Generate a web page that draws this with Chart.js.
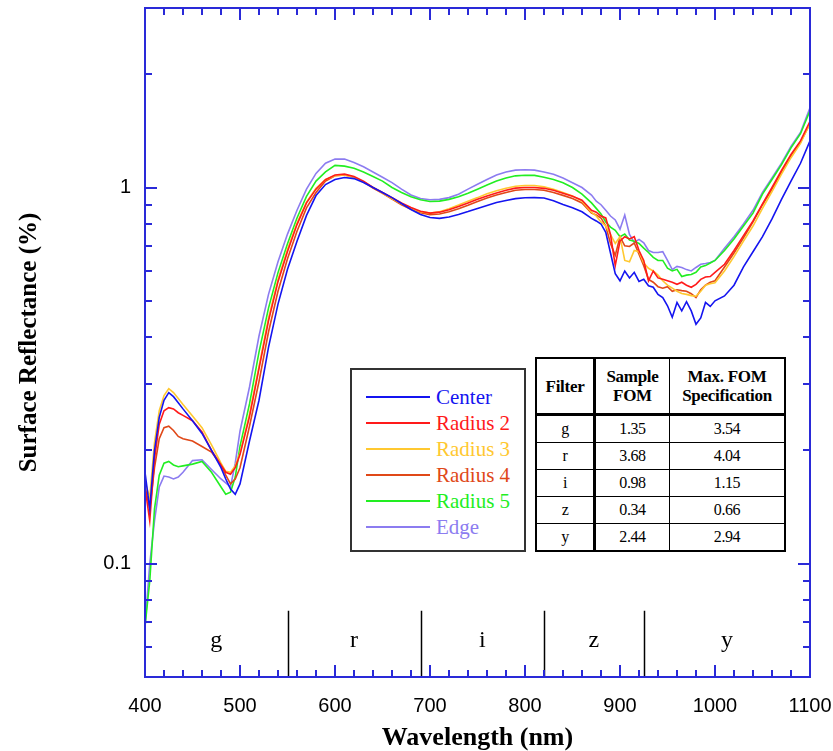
<!DOCTYPE html>
<html>
<head>
<meta charset="utf-8">
<script src="https://cdn.jsdelivr.net/npm/chart.js@4.4.1/dist/chart.umd.min.js"></script>
<style>
  body { margin: 0; background: #fff; }
  #wrap { position: relative; width: 833px; height: 751px; }
  #legend {
    position: absolute; left: 350px; top: 368px; width: 172px; height: 180px;
    border: 2px solid #333; background: #fff; font-family: "Liberation Serif", serif;
  }
  .row { position: absolute; left: 0; height: 24px; }
  .swatch { position: absolute; left: 14px; width: 64px; top: 11px; border-top: 2px solid; }
  .lbl { position: absolute; left: 84px; top: 0; font-size: 21px; line-height: 24px; white-space: nowrap; }
  #fom {
    position: absolute; left: 535px; top: 357px; width: 251px; height: 192px;
    border-collapse: collapse; border: 2px solid #000; background: #fff;
    font-family: "Liberation Serif", serif; text-align: center;
  }
  #fom td, #fom th { border: 1px solid #000; padding: 0; }
  #fom th { font-size: 17px; line-height: 19px; font-weight: bold; letter-spacing: -0.3px; height: 54px; border-bottom: 3px solid #000; }
  #fom td { font-size: 16px; height: 26px; letter-spacing: -0.4px; }
  #fom .first { border-right: 3px solid #000; }
</style>
</head>
<body>
<div id="wrap">
  <canvas id="chart" width="833" height="751"></canvas>
  <div id="legend"></div>
  <table id="fom"></table>
</div>
<script>
// wavelength grid (nm)
const wavelengths = [400,405,410,415,420,425,430,435,440,450,460,470,480,485,490,495,500,
  510,520,530,540,550,560,570,580,590,600,610,620,630,640,650,660,670,680,690,
  700,710,720,730,740,750,760,770,780,790,800,810,820,830,840,850,860,
  870,875,880,885,890,895,900,905,910,915,920,925,930,935,940,945,950,955,960,965,970,975,980,985,990,995,1000,
  1010,1020,1030,1040,1050,1060,1070,1080,1090,1100];

// surface reflectance (%) for each measurement position
const center = [0.175,0.14,0.2,0.245,0.272,0.285,0.278,0.268,0.258,0.24,0.222,0.2,0.18,0.168,0.158,0.153,0.163,
  0.212,0.272,0.376,0.49,0.606,0.72,0.843,0.952,1.018,1.05,1.063,1.056,1.031,1.0,0.97,0.94,0.907,0.874,0.848,
  0.832,0.828,0.835,0.848,0.863,0.88,0.896,0.912,0.924,0.934,0.939,0.94,0.938,0.922,0.901,0.883,0.862,
  0.828,0.815,0.8,0.76,0.67,0.59,0.565,0.6,0.575,0.595,0.563,0.57,0.548,0.543,0.52,0.51,0.485,0.452,0.495,0.47,0.497,0.47,0.433,0.45,0.495,0.483,0.5,
  0.515,0.55,0.615,0.675,0.74,0.825,0.93,1.04,1.16,1.33];
const radius2 = [0.16,0.13,0.19,0.235,0.255,0.26,0.258,0.252,0.248,0.24,0.224,0.2,0.183,0.175,0.173,0.18,0.195,
  0.246,0.33,0.442,0.562,0.676,0.797,0.91,0.99,1.05,1.08,1.085,1.07,1.04,1.0,0.97,0.94,0.91,0.885,0.865,
  0.855,0.86,0.873,0.89,0.91,0.93,0.95,0.967,0.983,0.996,1.0,1.0,0.995,0.983,0.965,0.948,0.925,
  0.87,0.86,0.84,0.83,0.75,0.62,0.72,0.74,0.73,0.74,0.68,0.64,0.565,0.6,0.575,0.57,0.565,0.56,0.553,0.56,0.55,0.543,0.553,0.57,0.578,0.58,0.595,
  0.625,0.68,0.745,0.815,0.905,1.0,1.11,1.225,1.33,1.5];
const radius3 = [0.165,0.15,0.21,0.255,0.28,0.292,0.285,0.275,0.265,0.247,0.23,0.207,0.185,0.176,0.175,0.182,0.197,
  0.25,0.335,0.45,0.57,0.685,0.805,0.915,0.995,1.05,1.075,1.08,1.065,1.035,1.0,0.967,0.935,0.905,0.88,0.862,
  0.855,0.862,0.878,0.898,0.92,0.94,0.962,0.98,0.995,1.008,1.012,1.012,1.005,0.99,0.97,0.95,0.92,
  0.86,0.84,0.81,0.79,0.75,0.71,0.74,0.64,0.635,0.68,0.675,0.63,0.61,0.6,0.585,0.565,0.55,0.54,0.53,0.523,0.52,0.516,0.514,0.53,0.55,0.555,0.558,
  0.6,0.655,0.72,0.79,0.88,0.975,1.085,1.2,1.31,1.48];
const radius4 = [0.16,0.14,0.18,0.215,0.23,0.232,0.226,0.218,0.215,0.212,0.205,0.198,0.183,0.172,0.163,0.168,0.18,
  0.232,0.305,0.413,0.53,0.647,0.765,0.883,0.97,1.04,1.075,1.08,1.065,1.035,0.997,0.965,0.932,0.9,0.875,0.857,
  0.847,0.85,0.862,0.878,0.897,0.918,0.938,0.955,0.97,0.983,0.988,0.988,0.983,0.97,0.953,0.935,0.91,
  0.855,0.845,0.83,0.79,0.71,0.66,0.74,0.7,0.697,0.712,0.665,0.62,0.57,0.56,0.545,0.54,0.545,0.53,0.535,0.532,0.53,0.522,0.51,0.535,0.55,0.56,0.565,
  0.615,0.67,0.735,0.81,0.9,0.99,1.1,1.215,1.32,1.48];
const radius5 = [0.068,0.09,0.14,0.172,0.185,0.187,0.183,0.181,0.182,0.184,0.187,0.175,0.16,0.153,0.155,0.17,0.205,
  0.266,0.365,0.478,0.594,0.709,0.83,0.947,1.04,1.1,1.145,1.14,1.125,1.1,1.07,1.04,1.0,0.97,0.945,0.928,
  0.918,0.92,0.93,0.945,0.965,0.99,1.015,1.04,1.06,1.074,1.078,1.077,1.065,1.05,1.03,1.0,0.96,
  0.91,0.88,0.85,0.81,0.785,0.77,0.74,0.752,0.725,0.72,0.71,0.69,0.672,0.652,0.64,0.64,0.61,0.6,0.606,0.58,0.585,0.587,0.595,0.615,0.62,0.63,0.64,
  0.68,0.73,0.79,0.855,0.96,1.05,1.15,1.275,1.39,1.6];
const edge = [0.068,0.1,0.13,0.16,0.171,0.17,0.168,0.17,0.175,0.188,0.189,0.178,0.168,0.164,0.16,0.185,0.225,
  0.295,0.403,0.52,0.635,0.752,0.87,0.99,1.09,1.16,1.19,1.19,1.165,1.135,1.1,1.065,1.03,0.99,0.955,0.935,
  0.928,0.93,0.94,0.96,0.99,1.02,1.05,1.08,1.1,1.112,1.115,1.112,1.1,1.085,1.06,1.03,1.0,
  0.955,0.92,0.9,0.87,0.84,0.82,0.775,0.845,0.75,0.715,0.728,0.713,0.68,0.672,0.672,0.675,0.64,0.605,0.617,0.613,0.605,0.6,0.613,0.625,0.628,0.632,0.64,
  0.69,0.74,0.8,0.87,0.97,1.06,1.16,1.285,1.4,1.63];

const seriesLabels = ['Center', 'Radius 2', 'Radius 3', 'Radius 4', 'Radius 5', 'Edge'];
const seriesValues = [center, radius2, radius3, radius4, radius5, edge];
const seriesColors = ['#1414f0', '#ff1a1a', '#ffc830', '#e04818', '#22ee22', '#8c7cf0'];

// axis ticks
const xTickValues = [400, 500, 600, 700, 800, 900, 1000, 1100];
const yTickValues = [0.05, 0.06, 0.07, 0.08, 0.09, 0.1, 0.2, 0.3, 0.4, 0.5, 0.6, 0.7, 0.8, 0.9, 1, 2, 3];
const yTickLabelled = [0.1, 1];

// filter bands
const bandNames = ['g', 'r', 'i', 'z', 'y'];
const bandEdges = [550, 690, 820, 925];

// FOM table
const fomFilters = ['g', 'r', 'i', 'z', 'y'];
const fomSample = ['1.35', '3.68', '0.98', '0.34', '2.44'];
const fomMax = ['3.54', '4.04', '1.15', '0.66', '2.94'];

const axisBlue = '#2a2ad8';

const datasets = seriesLabels.map((label, i) => ({
  label: label,
  data: wavelengths.map((w, j) => ({ x: w, y: seriesValues[i][j] })),
  borderColor: seriesColors[i],
  borderWidth: 1.6,
  pointRadius: 0,
  tension: 0,
  fill: false,
}));

// frame, inward ticks and the filter band strip
const framePlugin = {
  id: 'frame',
  afterDatasetsDraw(chart) {
    const { ctx, chartArea: a, scales: { x, y } } = chart;
    ctx.save();

    // band dividers + letters
    ctx.strokeStyle = '#000';
    ctx.lineWidth = 1.5;
    const yTop = y.getPixelForValue(0.075);
    bandEdges.forEach(w => {
      const px = Math.round(x.getPixelForValue(w)) + 0.5;
      ctx.beginPath(); ctx.moveTo(px, yTop); ctx.lineTo(px, a.bottom); ctx.stroke();
    });
    const bounds = [x.min, ...bandEdges, x.max];
    ctx.fillStyle = '#000';
    ctx.font = '24px "Liberation Serif"';
    ctx.textAlign = 'center';
    ctx.textBaseline = 'middle';
    const yText = y.getPixelForValue(0.0625);
    bandNames.forEach((n, i) => {
      ctx.fillText(n, x.getPixelForValue((bounds[i] + bounds[i + 1]) / 2), yText);
    });

    // frame
    ctx.strokeStyle = axisBlue;
    ctx.lineWidth = 2;
    ctx.strokeRect(a.left, a.top, a.right - a.left, a.bottom - a.top);

    // ticks pointing inward on all four sides
    ctx.beginPath();
    yTickValues.forEach(v => {
      const py = Math.round(y.getPixelForValue(v));
      const len = yTickLabelled.includes(v) ? 12 : 7;
      ctx.moveTo(a.left, py); ctx.lineTo(a.left + len, py);
      ctx.moveTo(a.right, py); ctx.lineTo(a.right - len, py);
    });
    for (let w = 420; w < 1100; w += 20) {
      const px = Math.round(x.getPixelForValue(w));
      const len = w % 100 === 0 ? 12 : 7;
      ctx.moveTo(px, a.bottom); ctx.lineTo(px, a.bottom - len);
      ctx.moveTo(px, a.top); ctx.lineTo(px, a.top + len);
    }
    ctx.stroke();
    ctx.restore();
  }
};

new Chart(document.getElementById('chart'), {
  type: 'line',
  data: { datasets: datasets },
  options: {
    responsive: false,
    animation: false,
    layout: { padding: { top: 8, right: 23, left: 0, bottom: 0 } },
    plugins: { legend: { display: false }, tooltip: { enabled: false } },
    scales: {
      x: {
        type: 'linear',
        min: 400,
        max: 1100,
        afterBuildTicks: (scale) => { scale.ticks = xTickValues.map(v => ({ value: v })); },
        afterFit: (scale) => {
          scale.height = 74;
          scale.paddingLeft = 0;
          scale.paddingRight = 0;
        },
        grid: { display: false, drawTicks: false },
        border: { display: false },
        ticks: {
          padding: 17,
          maxRotation: 0,
          autoSkip: false,
          color: '#000',
          font: { family: 'Liberation Sans', size: 20 },
          callback: (v) => String(v),
        },
        title: {
          display: true,
          text: 'Wavelength (nm)',
          color: '#000',
          font: { family: 'Liberation Serif', size: 26, weight: 'bold', lineHeight: 1 },
          padding: { top: 0, bottom: 0 },
        },
      },
      y: {
        type: 'logarithmic',
        min: 0.05,
        max: 3,
        afterBuildTicks: (scale) => { scale.ticks = yTickValues.map(v => ({ value: v })); },
        afterFit: (scale) => {
          scale.width = 145;
          scale.paddingTop = 0;
          scale.paddingBottom = 0;
        },
        grid: { display: false, drawTicks: false },
        border: { display: false },
        ticks: {
          padding: 14,
          autoSkip: false,
          color: '#000',
          font: { family: 'Liberation Sans', size: 20 },
          callback: (v) => (yTickLabelled.includes(v) ? String(v) : ''),
        },
        title: {
          display: true,
          text: 'Surface Reflectance (%)',
          color: '#000',
          font: { family: 'Liberation Serif', size: 25, weight: 'bold', lineHeight: 1 },
          padding: { top: 17, bottom: 0 },
        },
      },
    },
  },
  plugins: [framePlugin],
});

// legend box
const legend = document.getElementById('legend');
seriesLabels.forEach((label, i) => {
  const row = document.createElement('div');
  row.className = 'row';
  row.style.top = (15 + i * 26) + 'px';
  row.innerHTML = '<div class="swatch" style="border-color:' + seriesColors[i] + '"></div>' +
    '<div class="lbl" style="color:' + seriesColors[i] + '">' + label + '</div>';
  legend.appendChild(row);
});

// FOM table
let html = '<tr><th class="first" style="width:56px">Filter</th><th style="width:73px">Sample<br>FOM</th><th>Max. FOM<br>Specification</th></tr>';
fomFilters.forEach((f, i) => {
  html += '<tr><td class="first">' + f + '</td><td>' + fomSample[i] + '</td><td>' + fomMax[i] + '</td></tr>';
});
document.getElementById('fom').innerHTML = html;
</script>
</body>
</html>
